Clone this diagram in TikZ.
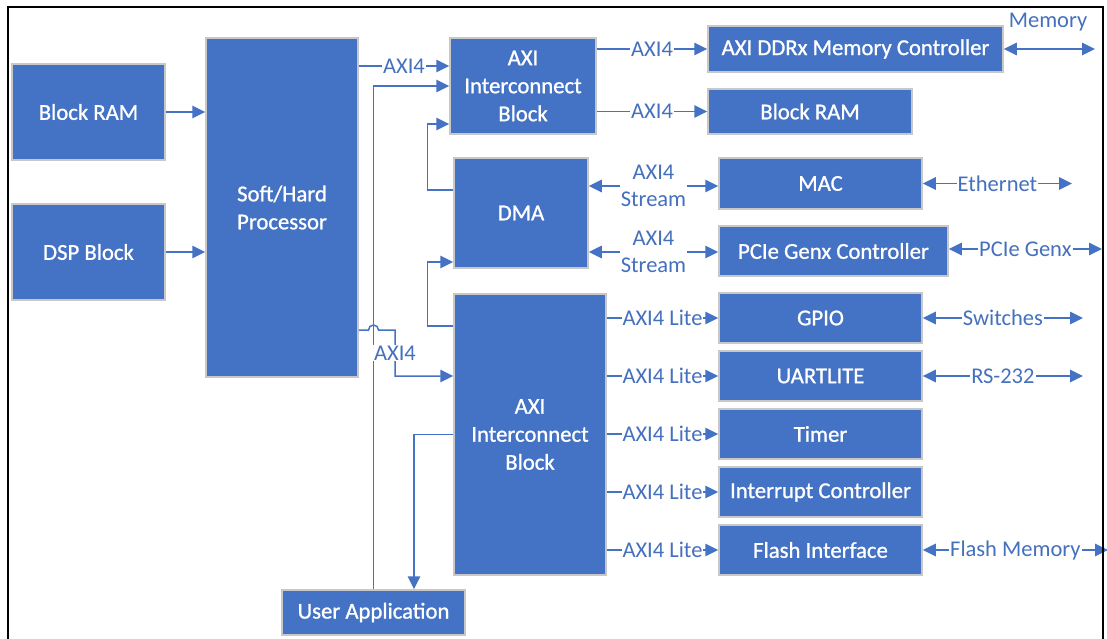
\documentclass[tikz,border=0pt]{standalone}
\usepackage{fontspec}
\setmainfont{Carlito}
\newfontfamily\boxfont[FakeBold=1]{Carlito}
\usetikzlibrary{arrows.meta}
\definecolor{boxblue}{HTML}{4472C4}
\definecolor{boxedge}{HTML}{C8C8C8}
\definecolor{wireblue}{HTML}{4472C4}
\definecolor{labelblue}{HTML}{4470BE}

\begin{document}
\begin{tikzpicture}[x=1pt,y=-1pt,
  blk/.style={draw=boxedge, line width=1.5pt, fill=boxblue, text=white,
    inner sep=0pt, align=center, font=\boxfont\fontsize{22.7}{28}\selectfont},
  wire/.style={draw=wireblue, line width=1.5pt,
    -{Triangle[length=13pt,width=12.5pt]}},
  biwire/.style={draw=wireblue, line width=1.5pt,
    {Triangle[length=13pt,width=12.5pt]}-{Triangle[length=13pt,width=12.5pt]}},
  tag/.style={fill=white, text=labelblue, inner sep=1pt, align=center,
    font=\fontsize{22.5}{27}\selectfont},
]
\useasboundingbox (0,0) rectangle (1107,639);

% ---------- blocks ----------
\node[blk, minimum width=153pt, minimum height=96pt]  (bramL) at (88.5,112)  {Block RAM};
\node[blk, minimum width=153pt, minimum height=96pt]  (dsp)   at (88.5,252)  {DSP Block};
\node[blk, minimum width=152pt, minimum height=339pt] (proc)  at (282,207.5) {Soft/Hard\\Processor};
\node[blk, minimum width=146pt, minimum height=96pt]  (ic1)   at (523,86)    {AXI\\Interconnect\\Block};
\node[blk, minimum width=134pt, minimum height=110pt] (dma)   at (521,213)   {DMA};
\node[blk, minimum width=152pt, minimum height=281pt] (ic2)   at (530,434.5) {AXI\\Interconnect\\Block};
\node[blk, minimum width=183pt, minimum height=45pt]  (user)  at (373.5,612.5) {User Application};

\node[blk, minimum width=295pt, minimum height=46pt] (ddr)   at (855.5,49)  {AXI DDRx Memory Controller};
\node[blk, minimum width=204pt, minimum height=45pt] (bramR) at (810,111.5) {Block RAM};
\node[blk, minimum width=203pt, minimum height=51pt] (mac)   at (820.5,183.5) {MAC};
\node[blk, minimum width=229pt, minimum height=50pt] (pcie)  at (833.5,251) {PCIe Genx Controller};
\node[blk, minimum width=203pt, minimum height=50pt] (gpio)  at (820.5,318) {GPIO};
\node[blk, minimum width=203pt, minimum height=50pt] (uart)  at (820.5,376) {UARTLITE};
\node[blk, minimum width=203pt, minimum height=50pt] (timer) at (820.5,434) {Timer};
\node[blk, minimum width=203pt, minimum height=50pt] (intc)  at (820.5,492) {Interrupt Controller};
\node[blk, minimum width=203pt, minimum height=50pt] (flash) at (820.5,550) {Flash Interface};

% ---------- external ends ----------
\coordinate (memEnd)  at (1095,49);
\coordinate (ethEnd)  at (1072,184);
\coordinate (pcieEnd) at (1102,249);
\coordinate (swEnd)   at (1083,318);
\coordinate (rsEnd)   at (1083,376);
\coordinate (flEnd)   at (1108,550);

% ---------- processor side ----------
\draw[wire] (bramL.east) -- (proc.west |- bramL.east);
\draw[wire] (dsp.east) -- (proc.west |- dsp.east);
\draw[wire] (proc.east |- 0,66) -- node[tag]{AXI4} (ic1.west |- 0,66);
\draw[wire] (user.north) |- (ic1.west);
\draw[wire] (proc.east |- 0,330) -- (368.5,330)
  arc[start angle=180, end angle=0, radius=5pt] -- (395,330)
  -- node[tag]{AXI4} (395,376) -- (ic2.west |- 0,376);
\draw[wire] (dma.west |- 0,190) -- ++(-26,0) |- (ic1.west |- 0,124);
\draw[wire] (ic2.west |- 0,326) -- ++(-26,0) |- (dma.west |- 0,262);
\draw[wire] (ic2.west) -| ([xshift=40.5pt]user.north);

% ---------- interconnect outputs ----------
\draw[wire] (ic1.east |- ddr.west) -- node[tag]{AXI4} (ddr.west);
\draw[wire] (ic1.east |- bramR.west) -- node[tag]{AXI4} (bramR.west);
\draw[biwire] (dma.east |- 0,186) -- node[tag]{AXI4\\Stream} (mac.west |- 0,186);
\draw[biwire] (dma.east |- 0,252) -- node[tag]{AXI4\\Stream} (pcie.west |- 0,252);
\foreach \dst in {gpio,uart,timer,intc,flash}
  \draw[wire] (ic2.east |- \dst.west) -- node[tag]{AXI4 Lite} (\dst.west);

% ---------- external interfaces ----------
\draw[biwire] (ddr.east) -- (ddr.east -| memEnd);
\node[text=labelblue, font=\fontsize{22.5}{27}\selectfont] (memlbl) at (1048,22) {Memory};
\draw[biwire] (mac.east) -- node[tag]{Ethernet} (mac.east -| ethEnd);
\draw[biwire] (pcie.east |- pcieEnd) -- node[tag]{PCIe Genx} (pcieEnd);
\draw[biwire] (gpio.east) -- node[tag]{Switches} (gpio.east -| swEnd);
\draw[biwire] (uart.east) -- node[tag]{RS-232} (uart.east -| rsEnd);
\draw[biwire] (flash.east) -- node[tag]{Flash Memory} (flash.east -| flEnd);

% ---------- frame ----------
\draw[line width=2pt] (8,700) -- (8,7) -- (1103,7) -- (1103,700);
\end{tikzpicture}
\end{document}
